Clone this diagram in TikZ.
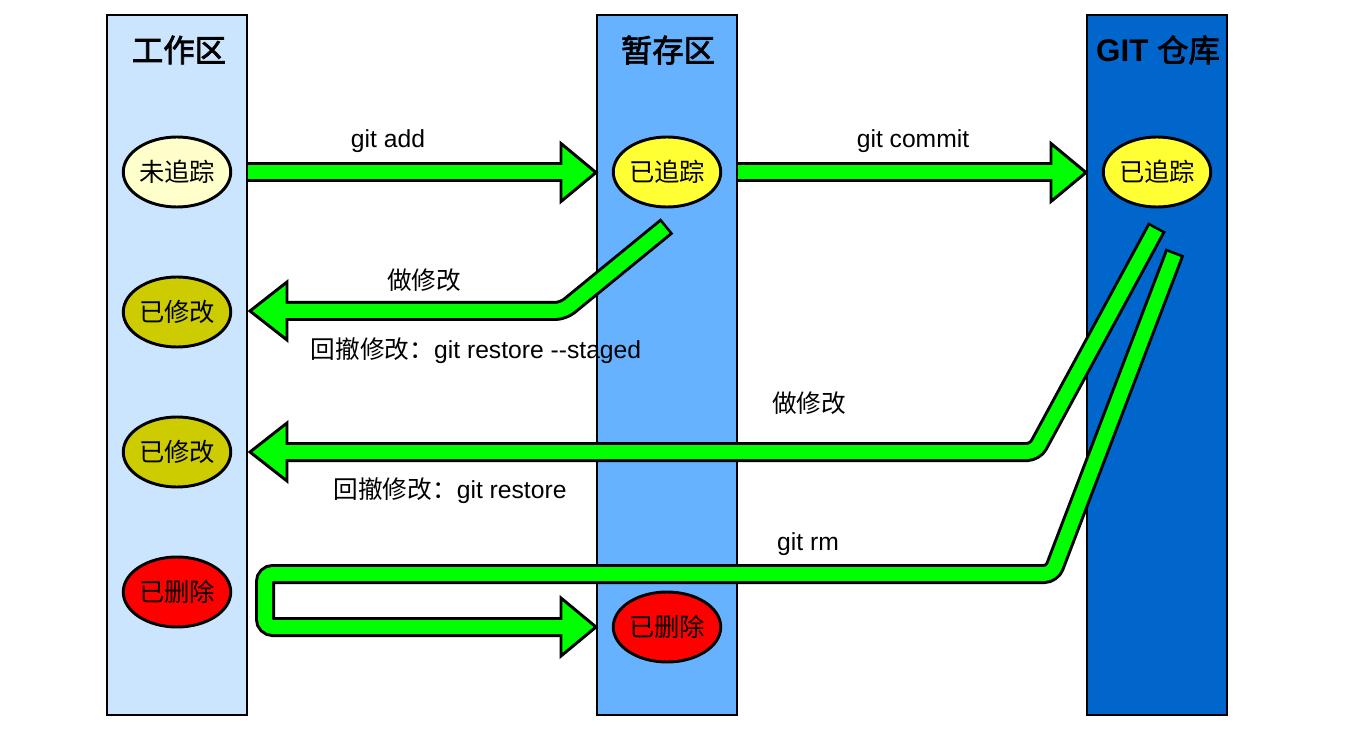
\documentclass[tikz,border=0pt]{standalone}
\usepackage{fontspec}
\setmainfont{Liberation Sans}
\newfontfamily\cjk[AutoFakeBold=2.5]{Noto Sans CJK SC}
\usetikzlibrary{shapes.geometric,calc}
\definecolor{colA}{HTML}{CCE5FF}
\definecolor{colB}{HTML}{66B2FF}
\definecolor{colC}{HTML}{0066CC}
\definecolor{untr}{HTML}{FFFFCC}
\definecolor{trk}{HTML}{FFFF33}
\definecolor{modc}{HTML}{CCCC00}
\definecolor{delc}{HTML}{FF0000}
\definecolor{band}{HTML}{00FF00}
\newcommand\headR[2]{\filldraw[headstyle] ($(#1)+(0,-29)$) -- (#2) -- ($(#1)+(0,29)$) -- cycle;}
\newcommand\headL[2]{\filldraw[headstyle] ($(#1)+(0,-29)$) -- (#2) -- ($(#1)+(0,29)$) -- cycle;}
\begin{document}
\begin{tikzpicture}[x=0.75pt,y=-0.75pt,
  colbox/.style={draw=black,line width=1.9pt},
  title/.style={font=\fontsize{23.5}{26}\selectfont\bfseries},
  state/.style={ellipse,draw=black,line width=2.2pt,minimum width=78pt,minimum height=52.5pt,inner sep=0pt,font=\cjk\fontsize{19}{21}\selectfont},
  lbl/.style={font=\fontsize{18.5}{20}\selectfont,inner sep=0pt},
  bandout/.style={draw=black,line width=15pt,rounded corners=6pt},
  bandin/.style={draw=band,line width=10.5pt,rounded corners=6pt},
  headstyle/.style={fill=band,draw=black,line width=2.2pt,line join=miter}]
\useasboundingbox (0,0) rectangle (1360,752);
\fill[white] (0,0) rectangle (1360,752);
% columns
\draw[colbox,fill=colA] (107,15) rectangle (247,715);
\draw[colbox,fill=colB] (597,15) rectangle (737,715);
\draw[colbox,fill=colC] (1087,15) rectangle (1227,715);
\node[title] (t1) at (179,50) {\cjk 工作区};
\node[title] (t2) at (668,50) {\cjk 暂存区};
\node[title] (t3) at (1158,50) {GIT {\cjk 仓库}};
% coordinates
\coordinate (a1s) at (248,172.5); \coordinate (a1b) at (561,172.5); \coordinate (a1t) at (596,172.5);
\coordinate (a2s) at (738,172.5); \coordinate (a2b) at (1051,172.5); \coordinate (a2t) at (1086,172.5);
\coordinate (a3s) at (667,226); \coordinate (a3c) at (563,311); \coordinate (a3b) at (287,311); \coordinate (a3t) at (250,311);
\coordinate (a4s) at (1157,227); \coordinate (a4c) at (1035,452); \coordinate (a4b) at (287,452); \coordinate (a4t) at (250,452);
\coordinate (a5s) at (1175,252); \coordinate (a5c) at (1052,574); \coordinate (a5d) at (265,574); \coordinate (a5e) at (265,627); \coordinate (a5b) at (561,627); \coordinate (a5t) at (596,627);
% git add
\draw[bandout] (a1s) -- (a1b);
\headR{a1b}{a1t}
\draw[bandin] (a1s) -- ($(a1b)+(4,0)$);
% git commit
\draw[bandout] (a2s) -- (a2b);
\headR{a2b}{a2t}
\draw[bandin] (a2s) -- ($(a2b)+(4,0)$);
% modify (stage)
\draw[bandout] (a3s) -- (a3c) -- (a3b);
\headL{a3b}{a3t}
\draw[bandin] ($(a3s)!2pt!(a3c)$) -- (a3c) -- ($(a3b)+(-4,0)$);
% modify (repo)
\draw[bandout] (a4s) -- (a4c) -- (a4b);
\headL{a4b}{a4t}
\draw[bandin] ($(a4s)!2pt!(a4c)$) -- (a4c) -- ($(a4b)+(-4,0)$);
% git rm
\draw[bandout] (a5s) -- (a5c) -- (a5d) -- (a5e) -- (a5b);
\headR{a5b}{a5t}
\draw[bandin] ($(a5s)!2pt!(a5c)$) -- (a5c) -- (a5d) -- (a5e) -- ($(a5b)+(4,0)$);
% states
\node[state,fill=untr] (w1) at (177,172) {未追踪};
\node[state,fill=modc] (w2) at (177,312) {已修改};
\node[state,fill=modc] (w3) at (177,452) {已修改};
\node[state,fill=delc] (w4) at (177,592) {已删除};
\node[state,fill=trk] (s1) at (667,172) {已追踪};
\node[state,fill=delc] (s2) at (667,627) {已删除};
\node[state,fill=trk] (r1) at (1157,172) {已追踪};
% labels
\node[lbl] (l1) at (388,141) {git add};
\node[lbl] (l2) at (913,141) {git commit};
\node[lbl] (l3) at (424,280) {\cjk 做修改};
\node[lbl] (l4) at (476,351) {{\cjk 回撤修改：}git restore -{}-staged};
\node[lbl] (l5) at (809,403) {\cjk 做修改};
\node[lbl] (l6) at (450,491) {{\cjk 回撤修改：}git restore};
\node[lbl] (l7) at (808,544) {git rm};
\end{tikzpicture}
\end{document}
